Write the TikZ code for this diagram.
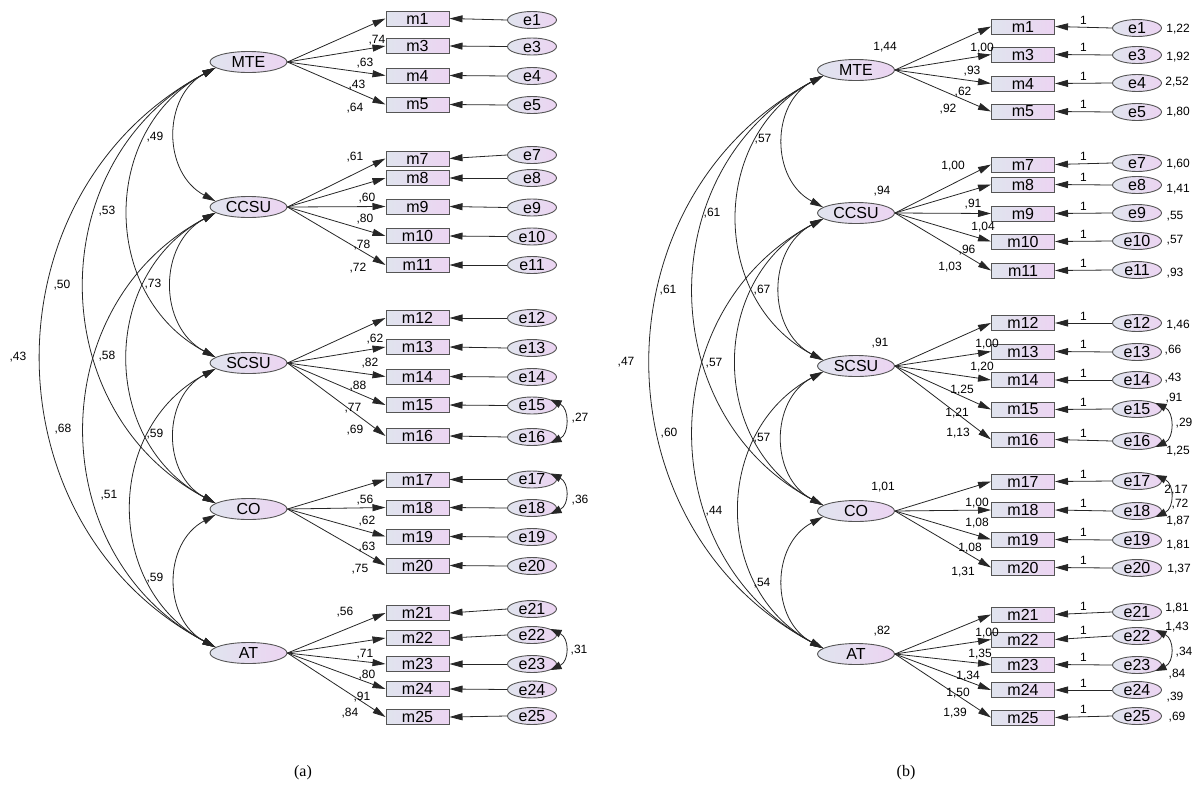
\documentclass[tikz,border=0pt]{standalone}
\usepackage{fontspec}
\setmainfont{Liberation Sans}
\newfontfamily\capfont{Liberation Serif}
\usetikzlibrary{arrows.meta,shapes.geometric}

\definecolor{shA}{RGB}{224,228,238}
\definecolor{shB}{RGB}{236,212,242}
\definecolor{rim}{RGB}{85,85,85}

\tikzset{
  tipA/.tip={Triangle[length=13pt,width=7pt]},
  tipB/.tip={Triangle[length=11pt,width=8pt]},
  latent/.style={ellipse, draw=rim, line width=0.9pt, left color=shA, right color=shB,
    minimum width=77pt, minimum height=21pt, inner sep=0pt, font=\fontsize{16}{16}\selectfont},
  obs/.style={rectangle, draw=rim, line width=1pt, left color=shA, right color=shB,
    minimum width=63pt, minimum height=15pt, inner sep=0pt, font=\fontsize{16}{16}\selectfont},
  err/.style={ellipse, draw=rim, line width=0.9pt, left color=shA, right color=shB,
    minimum width=49pt, minimum height=17pt, inner sep=0pt, font=\fontsize{16}{16}\selectfont},
  path/.style={draw=black!85, line width=0.8pt, -tipA},
  cov/.style={draw=black!85, line width=0.8pt, tipA-tipA, out=208, in=152, looseness=1.16},
  ecov/.style={draw=black!85, line width=0.8pt, tipB-tipB},
  num/.style={font=\fontsize{12}{12}\selectfont, inner sep=0pt},
}

\begin{document}
\begin{tikzpicture}[x=1pt,y=1pt]
\useasboundingbox (0,0) rectangle (1197,-793);

% ---------------- model (a): standardized estimates ----------------
\foreach \l/\y in {MTE/62, CCSU/207, SCSU/363, CO/509, AT/653}
  \node[latent] (a\l) at (248.5,-\y) {\l};

\foreach \n/\y in {1/18.5, 3/46, 4/75.5, 5/104.5, 7/158.5, 8/178, 9/206.5, 10/236, 11/265,
    12/318, 13/347, 14/376.5, 15/405, 16/436, 17/479.5, 18/507.5, 19/536.5, 20/565.5,
    21/613, 22/638, 23/664, 24/689, 25/717}
  \node[obs] (am\n) at (417.5,-\y) {m\n};

\foreach \n/\y in {1/20, 3/46.5, 4/76, 5/105, 7/155, 8/178, 9/207.5, 10/236.5, 11/265,
    12/318, 13/348, 14/377, 15/405.5, 16/437, 17/479.5, 18/508, 19/537, 20/566,
    21/609, 22/635, 23/664, 24/689.5, 25/716}
  \node[err] (ae\n) at (532,-\y) {e\n};

\foreach \l/\n in {MTE/1, MTE/3, MTE/4, MTE/5, CCSU/7, CCSU/8, CCSU/9, CCSU/10, CCSU/11,
    SCSU/12, SCSU/13, SCSU/14, SCSU/15, SCSU/16, CO/17, CO/18, CO/19, CO/20,
    AT/21, AT/22, AT/23, AT/24, AT/25}
  \draw[path] (a\l.east) -- (am\n.west);

\foreach \n in {1,3,4,5,7,8,9,10,11,12,13,14,15,16,17,18,19,20,21,22,23,24,25}
  \draw[path] (ae\n.west) -- (am\n.east);

\foreach \u/\v in {MTE/CCSU, CCSU/SCSU, SCSU/CO, CO/AT, MTE/SCSU, CCSU/CO, SCSU/AT,
    MTE/CO, CCSU/AT, MTE/AT}
  \draw[cov] (a\u.190) to (a\v.170);

\foreach \u/\v in {15/16, 17/18, 22/23}
  \draw[ecov] (ae\u.18) .. controls +(19,-9) and +(19,9) .. (ae\v.-18);

\foreach \x/\y/\t [count=\i] in {155/137/{,49}, 153/284/{,73}, 155/434/{,59}, 155/578/{,59},
    107/211/{,53}, 107/356/{,58}, 109/495/{,51}, 62/285/{,50}, 63/429/{,68}, 18/357/{,43},
    377/40/{,74}, 365/63/{,63}, 357/85/{,43}, 355/108/{,64},
    355/157/{,61}, 367/198/{,60}, 365/219/{,80}, 362/245/{,78}, 358/268/{,72},
    375/339/{,62}, 370/363/{,82}, 358/386/{,88}, 353/408/{,77}, 355/430/{,69},
    365/500/{,56}, 367/521/{,62}, 367/547/{,63}, 360/569/{,75},
    345/612/{,56}, 365/654/{,71}, 367/675/{,80}, 362/697/{,91}, 350/713/{,84},
    580/418/{,27}, 580/500/{,36}, 579/650/{,31}}
  \node[num] (la\i) at (\x,-\y) {\t};

\node[font=\capfont\fontsize{16}{16}\selectfont] (capa) at (303,-773) {(a)};

% ---------------- model (b): unstandardized estimates ----------------
\foreach \l/\y in {MTE/70, CCSU/213, SCSU/366, CO/511, AT/654}
  \node[latent] (b\l) at (856,-\y) {\l};

\foreach \n/\y in {1/26.5, 3/54.5, 4/83.5, 5/111.5, 7/164.5, 8/184.5, 9/213.5, 10/241.5, 11/270.5,
    12/323, 13/351.5, 14/380, 15/409.5, 16/439.5, 17/481.5, 18/510, 19/539.5, 20/567.5,
    21/614.5, 22/639.5, 23/664.5, 24/690, 25/717.5}
  \node[obs] (bm\n) at (1023,-\y) {m\n};

\foreach \n/\y in {1/28, 3/55, 4/83, 5/112, 7/163, 8/185, 9/213, 10/241, 11/270,
    12/323, 13/352, 14/380, 15/409, 16/441, 17/481, 18/511, 19/540, 20/568,
    21/612, 22/636, 23/665, 24/690, 25/716}
  \node[err] (be\n) at (1137,-\y) {e\n};

\foreach \l/\n in {MTE/1, MTE/3, MTE/4, MTE/5, CCSU/7, CCSU/8, CCSU/9, CCSU/10, CCSU/11,
    SCSU/12, SCSU/13, SCSU/14, SCSU/15, SCSU/16, CO/17, CO/18, CO/19, CO/20,
    AT/21, AT/22, AT/23, AT/24, AT/25}
  \draw[path] (b\l.east) -- (bm\n.west);

\foreach \n in {1,3,4,5,7,8,9,10,11,12,13,14,15,16,17,18,19,20,21,22,23,24,25}
  \draw[path] (be\n.west) -- node[num, above=2.5pt] (one\n) {1} (bm\n.east);

\foreach \u/\v in {MTE/CCSU, CCSU/SCSU, SCSU/CO, CO/AT, MTE/SCSU, CCSU/CO, SCSU/AT,
    MTE/CO, CCSU/AT, MTE/AT}
  \draw[cov] (b\u.190) to (b\v.170);

\foreach \u/\v in {15/16, 17/18, 22/23}
  \draw[ecov] (be\u.18) .. controls +(19,-9) and +(19,9) .. (be\v.-18);

\foreach \x/\y/\t [count=\i] in {763/139/{,57}, 712/213/{,61}, 762/290/{,67}, 668/290/{,61},
    626/362/{,47}, 714/363/{,57}, 669/433/{,60}, 762/438/{,57}, 714/511/{,44}, 762/583/{,54},
    885/47/{1,44}, 982/48/{1,00}, 972/71/{,93}, 963/92/{,62}, 948/109/{,92},
    1178/29/{1,22}, 1178/57/{1,92}, 1177/82/{2,52}, 1178/112/{1,80},
    882/191/{,94}, 953/166/{1,00}, 973/204/{,91}, 983/227/{1,04}, 967/250/{,96}, 950/267/{1,03},
    1178/164/{1,60}, 1178/189/{1,41}, 1175/216/{,55}, 1175/240/{,57}, 1175/273/{,93},
    880/343/{,91}, 987/344/{1,00}, 982/367/{1,20}, 962/390/{1,25}, 957/413/{1,21}, 958/433/{1,13},
    1178/325/{1,46}, 1173/350/{,66}, 1173/378/{,43}, 1174/398/{,91}, 1184/423/{,29}, 1178/451/{1,25},
    883/487/{1,01}, 1176/490/{2,17}, 977/503/{1,00}, 977/523/{1,08}, 970/548/{1,08}, 963/572/{1,31},
    1180/504/{,72}, 1178/521/{1,87}, 1178/545/{1,81}, 1179/569/{1,37},
    882/631/{,82}, 987/633/{1,00}, 980/654/{1,35}, 968/676/{1,34}, 958/693/{1,50}, 955/713/{1,39},
    1177/608/{1,81}, 1177/627/{1,43}, 1184/652/{,34}, 1177/674/{,84}, 1175/697/{,39}, 1177/717/{,69}}
  \node[num] (lb\i) at (\x,-\y) {\t};

\node[font=\capfont\fontsize{16}{16}\selectfont] (capb) at (906,-773) {(b)};
\end{tikzpicture}
\end{document}
